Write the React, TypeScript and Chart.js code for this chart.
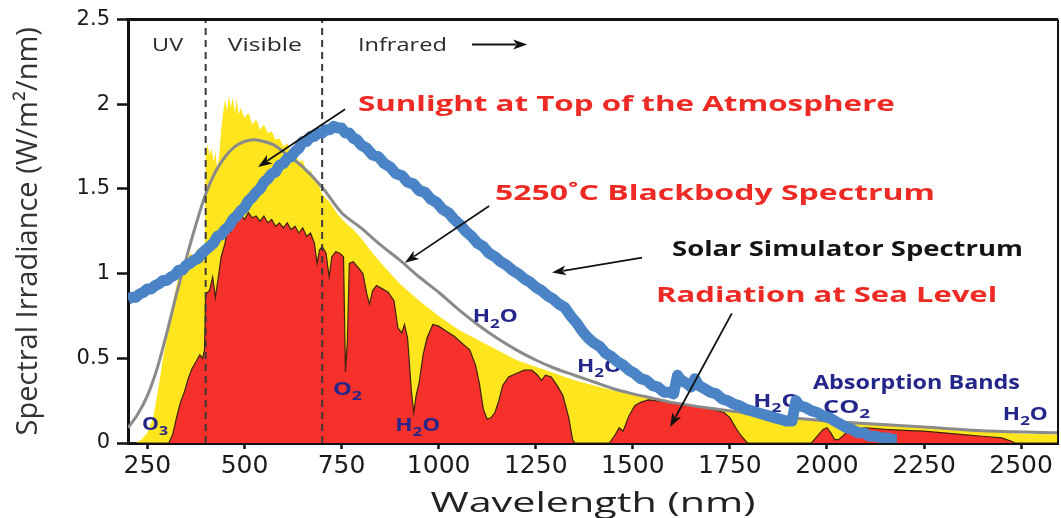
import { useEffect, useRef } from 'react';
import { Chart, registerables } from 'chart.js';

Chart.register(...registerables);

// ---------- axis ticks ----------
const xTicks = [250, 500, 750, 1000, 1250, 1500, 1750, 2000, 2250, 2500];
const yTicks = [0, 0.5, 1, 1.5, 2, 2.5];
const regionDividers = [400, 700];

// ---------- Sunlight at top of the atmosphere (yellow) ----------
const toaNm = [200, 220, 235, 250, 265, 280, 290, 300, 310, 320, 330, 340, 350, 360, 370, 380, 390, 398,
  400, 405, 410, 415, 420, 425, 430, 435, 440, 445, 450, 455, 460, 465, 470, 475, 480, 485, 490,
  500, 510, 520, 530, 540, 550, 560, 570, 580, 590, 600, 610, 620, 630, 640, 650, 660, 670, 680, 690,
  700, 720, 740, 760, 780, 800, 830, 860, 900, 950, 1000, 1050, 1100, 1150, 1200, 1250, 1300, 1350,
  1400, 1450, 1500, 1550, 1600, 1650, 1700, 1750, 1800, 1850, 1900, 1950, 2000, 2100, 2200, 2300,
  2400, 2500, 2595];
const toaVal = [0, 0, 0.02, 0.06, 0.15, 0.35, 0.5, 0.62, 0.75, 0.88, 0.98, 1.04, 1.08, 1.12, 1.1, 1.15, 1.12, 1.18,
  1.72, 1.76, 1.7, 1.74, 1.66, 1.72, 1.62, 1.7, 1.85, 1.95, 2.03, 1.96, 2.05, 1.98, 2.04, 1.95, 2.03, 1.94, 1.98,
  1.92, 1.95, 1.88, 1.91, 1.85, 1.88, 1.83, 1.84, 1.79, 1.8, 1.75, 1.77, 1.71, 1.72, 1.66, 1.67, 1.6, 1.61, 1.55, 1.53,
  1.47, 1.42, 1.35, 1.3, 1.26, 1.21, 1.12, 1.04, 0.94, 0.84, 0.75, 0.67, 0.61, 0.55, 0.49, 0.45, 0.41, 0.37,
  0.34, 0.31, 0.285, 0.26, 0.235, 0.22, 0.2, 0.185, 0.17, 0.155, 0.145, 0.135, 0.125, 0.11, 0.095, 0.085,
  0.072, 0.055, 0.05];

// ---------- Radiation at sea level (red) ----------
const seaNm = [200, 305, 315, 325, 335, 345, 355, 365, 375, 385, 392, 397,
  400, 410, 418, 425, 432, 440, 450, 458, 465, 472, 480, 490, 500, 510, 520, 530, 540, 550, 560, 570, 580,
  590, 600, 610, 620, 630, 640, 650, 660, 670, 680, 687, 693, 700, 710, 718, 725, 735, 745, 755, 760, 765,
  770, 780, 795, 805, 815, 822, 830, 840, 855, 870, 885, 895, 905, 912, 920, 930, 936, 942, 950, 960, 970,
  985, 1000, 1020, 1040, 1060, 1080, 1095, 1105, 1115, 1125, 1135, 1145, 1155, 1165, 1180, 1200, 1220,
  1240, 1255, 1265, 1275, 1290, 1305, 1320, 1335, 1345, 1350, 1440, 1455, 1465, 1475, 1490, 1505, 1520,
  1540, 1560, 1580, 1600, 1620, 1650, 1680, 1710, 1735, 1750, 1765, 1780, 1795, 1960, 1975, 1990, 2000,
  2010, 2020, 2030, 2050, 2080, 2100, 2150, 2200, 2250, 2300, 2350, 2400, 2450, 2475, 2485, 2595];
const seaVal = [0, 0, 0.05, 0.15, 0.24, 0.3, 0.38, 0.44, 0.48, 0.52, 0.5, 0.55,
  0.88, 0.9, 0.98, 0.86, 0.97, 1.1, 1.18, 1.3, 1.25, 1.33, 1.3, 1.35, 1.32, 1.36, 1.33, 1.34, 1.31, 1.34, 1.3, 1.32, 1.28,
  1.3, 1.27, 1.3, 1.26, 1.28, 1.24, 1.27, 1.22, 1.24, 1.18, 1.06, 1.14, 1.16, 1.12, 0.98, 1.1, 1.13, 1.12, 1.1, 0.42, 0.6,
  1.06, 1.07, 1.03, 1.0, 0.88, 0.82, 0.9, 0.93, 0.91, 0.89, 0.84, 0.68, 0.65, 0.7, 0.62, 0.3, 0.18, 0.28, 0.36, 0.52, 0.62,
  0.7, 0.69, 0.66, 0.63, 0.59, 0.55, 0.46, 0.35, 0.2, 0.14, 0.15, 0.18, 0.25, 0.34, 0.39, 0.41, 0.43,
  0.43, 0.4, 0.37, 0.4, 0.39, 0.34, 0.28, 0.15, 0.02, 0, 0, 0.05, 0.09, 0.07, 0.16, 0.22, 0.24,
  0.255, 0.25, 0.245, 0.235, 0.23, 0.22, 0.21, 0.195, 0.18, 0.15, 0.09, 0.04, 0, 0, 0.04, 0.08, 0.09,
  0.06, 0.02, 0.02, 0.06, 0.085, 0.09, 0.08, 0.075, 0.07, 0.06, 0.05, 0.04, 0.03, 0.01, 0, 0];

// ---------- 5250 °C blackbody spectrum (grey) ----------
const bbNm = [200, 225, 250, 275, 300, 325, 350, 375, 400, 425, 450, 475, 500, 525, 550, 575, 600, 650, 700,
  750, 800, 850, 900, 950, 1000, 1050, 1100, 1150, 1200, 1250, 1300, 1350, 1400, 1450, 1500, 1550, 1600,
  1700, 1800, 1900, 2000, 2100, 2250, 2400, 2595];
const bbVal = [0.09, 0.17, 0.28, 0.44, 0.65, 0.88, 1.09, 1.29, 1.47, 1.6, 1.69, 1.75, 1.78, 1.79, 1.78, 1.76, 1.72, 1.63, 1.51,
  1.36, 1.27, 1.17, 1.08, 0.98, 0.89, 0.79, 0.7, 0.62, 0.55, 0.49, 0.44, 0.4, 0.36, 0.32, 0.29, 0.265, 0.24,
  0.205, 0.175, 0.15, 0.13, 0.115, 0.095, 0.072, 0.06];

// ---------- Solar simulator spectrum (blue) ----------
const simNm = [200, 210, 220, 230, 240, 250, 260, 270, 280, 290, 300, 310, 320, 330, 340, 350, 360, 370, 380, 390,
  400, 410, 420, 430, 440, 450, 460, 470, 480, 490, 500, 510, 520, 530, 540, 550, 560, 570, 580, 590,
  600, 610, 620, 630, 640, 650, 660, 670, 680, 690, 700, 710, 720, 730, 740, 750, 760, 770, 780, 790,
  800, 815, 830, 845, 860, 875, 890, 905, 920, 935, 950, 965, 980, 995, 1010, 1025, 1040, 1055, 1070, 1085,
  1100, 1115, 1130, 1145, 1160, 1175, 1190, 1205, 1220, 1235, 1250, 1265, 1280, 1295, 1310, 1325, 1340, 1355,
  1370, 1385, 1400, 1415, 1430, 1445, 1460, 1475, 1490, 1505, 1520, 1535, 1550, 1565, 1580, 1595, 1605, 1615,
  1625, 1640, 1650, 1660, 1670, 1685, 1700, 1715, 1730, 1745, 1760, 1775, 1790, 1805, 1820, 1835, 1850, 1865,
  1880, 1895, 1910, 1920, 1930, 1945, 1960, 1975, 1990, 2005, 2020, 2035, 2050, 2065, 2080, 2095, 2110, 2125,
  2140, 2155, 2170, 2180];
const simVal = [0.85, 0.86, 0.86, 0.88, 0.89, 0.91, 0.91, 0.93, 0.94, 0.96, 0.96, 0.98, 0.99, 1.02, 1.02, 1.05, 1.06, 1.08, 1.09, 1.12,
  1.14, 1.16, 1.18, 1.22, 1.23, 1.26, 1.28, 1.32, 1.34, 1.37, 1.39, 1.43, 1.45, 1.48, 1.5, 1.54, 1.56, 1.59, 1.6, 1.64,
  1.65, 1.68, 1.69, 1.72, 1.74, 1.78, 1.78, 1.81, 1.81, 1.83, 1.83, 1.85, 1.85, 1.87, 1.86, 1.86, 1.83, 1.83, 1.8, 1.79,
  1.76, 1.74, 1.7, 1.69, 1.65, 1.63, 1.59, 1.58, 1.54, 1.53, 1.49, 1.48, 1.44, 1.42, 1.38, 1.36, 1.32, 1.29, 1.25, 1.22,
  1.18, 1.16, 1.12, 1.1, 1.07, 1.05, 1.02, 1.0, 0.97, 0.95, 0.92, 0.9, 0.87, 0.85, 0.82, 0.8, 0.75, 0.71,
  0.66, 0.62, 0.59, 0.57, 0.53, 0.51, 0.48, 0.46, 0.43, 0.41, 0.38, 0.37, 0.34, 0.33, 0.3, 0.3, 0.29, 0.4,
  0.37, 0.35, 0.33, 0.38, 0.34, 0.32, 0.3, 0.29, 0.26, 0.25, 0.23, 0.22, 0.2, 0.19, 0.18, 0.17, 0.16, 0.15,
  0.14, 0.13, 0.13, 0.25, 0.22, 0.21, 0.19, 0.18, 0.16, 0.15, 0.13, 0.11, 0.09, 0.08, 0.06, 0.06, 0.04, 0.04,
  0.03, 0.03, 0.02, 0.02];

// ---------- annotations (data coordinates: nm, W/m2/nm) ----------
const regionLabels = [
  { text: 'UV', nm: 262, v: 2.312, w: 31 },
  { text: 'Visible', nm: 457, v: 2.312, w: 74 },
  { text: 'Infrared', nm: 792, v: 2.312, w: 89 },
];
const seriesLabels = [
  { text: 'Sunlight at Top of the Atmosphere', nm: 792, v: 1.959, w: 537, color: '#ee2a24' },
  { text: '5250\u02DAC Blackbody Spectrum', nm: 1145, v: 1.435, w: 440, color: '#ee2a24' },
  { text: 'Solar Simulator Spectrum', nm: 1601, v: 1.106, w: 351, color: '#141414' },
  { text: 'Radiation at Sea Level', nm: 1560, v: 0.835, w: 341, color: '#ee2a24' },
];
const arrows = [
  { from: [759, 1.97], to: [535, 1.63] },
  { from: [1130, 1.4], to: [913, 1.065] },
  { from: [1524, 1.094], to: [1292, 1.006] },
  { from: [1755, 0.765], to: [1596, 0.094] },
  { from: [1086, 2.353], to: [1228, 2.353] },
];
const bandLabels = [
  { text: 'O_3', nm: 236, v: 0.076, w: 26 },
  { text: 'O_2', nm: 728, v: 0.282, w: 29 },
  { text: 'H_2O', nm: 888, v: 0.071, w: 45 },
  { text: 'H_2O', nm: 1088, v: 0.712, w: 45 },
  { text: 'H_2O', nm: 1356, v: 0.418, w: 45 },
  { text: 'H_2O', nm: 1810, v: 0.212, w: 47 },
  { text: 'CO_2', nm: 1990, v: 0.176, w: 47 },
  { text: 'H_2O', nm: 2453, v: 0.135, w: 45 },
  { text: 'Absorption Bands', nm: 1964, v: 0.318, w: 207 },
];

const toPts = (xs: number[], ys: number[]) => xs.map((x, i) => ({ x, y: ys[i] }));

type Seg = { t: string; sub: boolean };
function parseSegs(text: string): Seg[] {
  const out: Seg[] = [];
  let buf = '';
  for (let i = 0; i < text.length; i++) {
    if (text[i] === '_' && i + 1 < text.length) {
      if (buf) out.push({ t: buf, sub: false });
      buf = '';
      out.push({ t: text[i + 1], sub: true });
      i++;
    } else buf += text[i];
  }
  if (buf) out.push({ t: buf, sub: false });
  return out;
}

function stretchText(ctx: CanvasRenderingContext2D, text: string, x: number, y: number, width: number,
  size: number, weight: string, family: string, color: string) {
  const segs = parseSegs(text);
  ctx.save();
  ctx.fillStyle = color;
  ctx.textBaseline = 'alphabetic';
  ctx.textAlign = 'left';
  let total = 0;
  const m = segs.map((s) => {
    const fs = s.sub ? size * 0.75 : size;
    ctx.font = `${weight} ${fs}px ${family}`;
    const w = ctx.measureText(s.t).width;
    total += w;
    return { s, fs, w };
  });
  ctx.translate(x, y);
  ctx.scale(width / total, 1);
  let cx = 0;
  for (const it of m) {
    ctx.font = `${weight} ${it.fs}px ${family}`;
    ctx.fillText(it.s.t, cx, it.s.sub ? size * 0.3 : 0);
    cx += it.w;
  }
  ctx.restore();
}

function drawArrow(ctx: CanvasRenderingContext2D, x1: number, y1: number, x2: number, y2: number) {
  const ang = Math.atan2(y2 - y1, x2 - x1);
  const head = 14;
  const half = 5;
  ctx.save();
  ctx.strokeStyle = '#111';
  ctx.fillStyle = '#111';
  ctx.lineWidth = 1.8;
  ctx.beginPath();
  ctx.moveTo(x1, y1);
  ctx.lineTo(x2 - Math.cos(ang) * head * 0.8, y2 - Math.sin(ang) * head * 0.8);
  ctx.stroke();
  ctx.beginPath();
  ctx.moveTo(x2, y2);
  ctx.lineTo(x2 - Math.cos(ang) * head - Math.sin(ang) * half, y2 - Math.sin(ang) * head + Math.cos(ang) * half);
  ctx.lineTo(x2 - Math.cos(ang) * head * 0.75, y2 - Math.sin(ang) * head * 0.75);
  ctx.lineTo(x2 - Math.cos(ang) * head + Math.sin(ang) * half, y2 - Math.sin(ang) * head - Math.cos(ang) * half);
  ctx.closePath();
  ctx.fill();
  ctx.restore();
}

const annotationPlugin = {
  id: 'spectrumAnnotations',
  beforeDatasetDraw(chart: any, args: any) {
    if (args.index !== 0) return;
    const { ctx, scales } = chart;
    for (const l of bandLabels) {
      stretchText(ctx, l.text, scales.x.getPixelForValue(l.nm), scales.y.getPixelForValue(l.v), l.w,
        l.text.length > 5 ? 19 : 17, 'bold', '"Open Sans", sans-serif', '#25268a');
    }
  },
  afterDatasetsDraw(chart: any) {
    const { ctx, scales, chartArea } = chart;
    const X = (v: number) => scales.x.getPixelForValue(v);
    const Y = (v: number) => scales.y.getPixelForValue(v);
    ctx.save();
    ctx.strokeStyle = '#111';
    ctx.lineWidth = 3;
    ctx.beginPath();
    ctx.moveTo(chartArea.left - 1.5, chartArea.top);
    ctx.lineTo(chartArea.right, chartArea.top);
    ctx.stroke();
    ctx.lineWidth = 2;
    ctx.beginPath();
    ctx.moveTo(chartArea.right, chartArea.top);
    ctx.lineTo(chartArea.right, chartArea.bottom);
    ctx.stroke();
    ctx.restore();
    for (const l of regionLabels) {
      stretchText(ctx, l.text, X(l.nm), Y(l.v), l.w, 18, 'normal', '"Open Sans", sans-serif', '#2a2a2a');
    }
    for (const l of seriesLabels) {
      stretchText(ctx, l.text, X(l.nm), Y(l.v), l.w, 22, 'bold', '"Open Sans", sans-serif', l.color);
    }
    for (const a of arrows) {
      drawArrow(ctx, X(a.from[0]), Y(a.from[1]), X(a.to[0]), Y(a.to[1]));
    }
  },
  afterDraw(chart: any) {
    const { ctx, chartArea, height } = chart;
    const title = 'Wavelength (nm)';
    const w = 325;
    const cx = (chartArea.left + chartArea.right) / 2;
    stretchText(ctx, title, cx - w / 2, height - 6, w, 28, 'normal', '"Open Sans", sans-serif', '#222');
  },
};

export default function App() {
  const ref = useRef<HTMLCanvasElement | null>(null);
  useEffect(() => {
    if (!ref.current) return;
    const chart = new Chart(ref.current, {
      type: 'line',
      data: {
        datasets: [
          {
            label: 'Solar Simulator Spectrum',
            data: toPts(simNm, simVal),
            borderColor: '#4a84c6',
            borderWidth: 11,
            borderJoinStyle: 'round',
            pointRadius: 0,
            fill: false,
            tension: 0,
            order: 0,
          },
          ...regionDividers.map((d, i) => ({
            label: 'divider' + i,
            data: [{ x: d, y: 0 }, { x: d, y: 2.5 }],
            borderColor: '#3a3a3a',
            borderWidth: 2,
            borderDash: [7, 5],
            pointRadius: 0,
            fill: false,
            order: 1,
          })),
          {
            label: '5250°C Blackbody Spectrum',
            data: toPts(bbNm, bbVal),
            borderColor: '#8a8a8a',
            borderWidth: 3,
            pointRadius: 0,
            fill: false,
            tension: 0.3,
            order: 2,
          },
          {
            label: 'Radiation at Sea Level',
            data: toPts(seaNm, seaVal),
            borderColor: '#3a2410',
            borderWidth: 1.2,
            backgroundColor: '#f6302a',
            pointRadius: 0,
            fill: 'origin',
            tension: 0,
            order: 3,
          },
          {
            label: 'Sunlight at Top of the Atmosphere',
            data: toPts(toaNm, toaVal),
            borderColor: 'rgba(0,0,0,0)',
            borderWidth: 0,
            backgroundColor: '#ffe51e',
            pointRadius: 0,
            fill: 'origin',
            tension: 0,
            order: 4,
          },
        ],
      },
      options: {
        responsive: false,
        animation: false,
        devicePixelRatio: 1,
        parsing: false as any,
        layout: { padding: { top: 18, right: 3, left: 0, bottom: 0 } },
        plugins: { legend: { display: false }, tooltip: { enabled: false } },
        scales: {
          x: {
            type: 'linear',
            min: 200,
            max: 2595,
            afterBuildTicks: (s: any) => { s.ticks = xTicks.map((v) => ({ value: v })); },
            afterFit: (s: any) => { s.height = 75; },
            grid: { display: true, drawOnChartArea: false, drawTicks: true, tickLength: 6, tickWidth: 2.5, tickColor: '#111' },
            border: { display: true, color: '#111', width: 3 },
            ticks: {
              color: '#1a1a1a',
              font: { family: '"DejaVu Sans", sans-serif', size: 25 },
              padding: 2,
              maxRotation: 0,
              autoSkip: false,
              callback: (v: any) => String(v),
            },
          },
          y: {
            type: 'linear',
            min: 0,
            max: 2.5,
            afterBuildTicks: (s: any) => { s.ticks = yTicks.map((v) => ({ value: v })); },
            afterFit: (s: any) => { s.width = 128; },
            grid: { display: true, drawOnChartArea: false, drawTicks: true, tickLength: 11, tickWidth: 2.5, tickColor: '#111' },
            border: { display: true, color: '#111', width: 3 },
            ticks: {
              color: '#1a1a1a',
              font: { family: '"DejaVu Sans", sans-serif', size: 21 },
              padding: 7,
              autoSkip: false,
              callback: (v: any) => String(v),
            },
            title: {
              display: true,
              text: 'Spectral Irradiance (W/m\u00B2/nm)',
              color: '#333',
              font: { family: '"Open Sans", sans-serif', size: 29 },
              padding: { top: 11, bottom: 0 },
            },
          },
        },
      },
      plugins: [annotationPlugin],
    } as any);
    return () => chart.destroy();
  }, []);
  return (
    <div style={{ position: 'fixed', left: 0, top: 0, width: 1061, height: 518, background: '#fff' }}>
      <canvas ref={ref} width={1061} height={518} style={{ display: 'block', width: 1061, height: 518 }} />
    </div>
  );
}
